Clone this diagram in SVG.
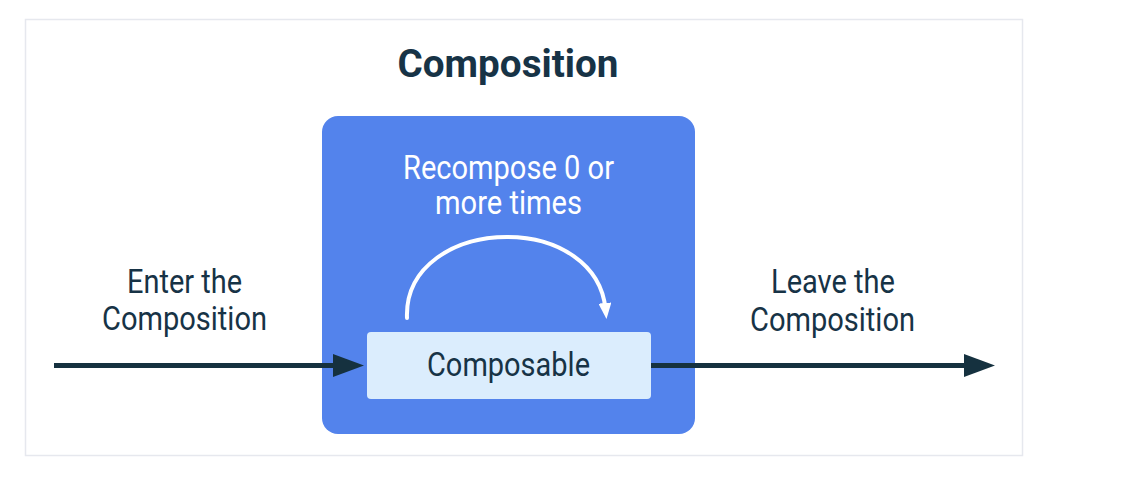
<svg xmlns="http://www.w3.org/2000/svg" width="1148" height="480" viewBox="0 0 1148 480">
<defs>
<style>
.t{font-family:Roboto,"Liberation Sans",sans-serif;font-size:32.5px;fill:#173346;text-anchor:middle}
.w{fill:#ffffff}
.conn{stroke:#15313f;stroke-width:5;fill:none}
</style>
<marker id="ah" viewBox="0 0 31 23" refX="11" refY="11.5" markerWidth="31" markerHeight="23" markerUnits="userSpaceOnUse" orient="auto">
<path d="M0,0 L31,11.5 L0,23 Z" fill="#15313f"/>
</marker>
<marker id="wh" viewBox="0 0 16 13" refX="6" refY="6.5" markerWidth="16" markerHeight="13" markerUnits="userSpaceOnUse" orient="auto">
<path d="M0,0 L16,6.5 L0,13 Z" fill="#ffffff"/>
</marker>
</defs>
<rect width="1148" height="480" fill="#ffffff"/>
<rect x="25.5" y="19.5" width="997" height="436" fill="#ffffff" stroke="#e6e8ee" stroke-width="1.5"/>
<text x="508" y="77" class="t" style="font-size:38px;font-weight:bold" textLength="221" lengthAdjust="spacingAndGlyphs">Composition</text>
<g id="composition">
<rect x="322" y="116" width="373" height="318" rx="16" fill="#5383ec"/>
<text x="508.5" y="179" class="t w" textLength="211" lengthAdjust="spacingAndGlyphs">Recompose 0 or</text>
<text x="508.5" y="214" class="t w" textLength="147" lengthAdjust="spacingAndGlyphs">more times</text>
</g>
<g id="composable">
<rect x="367" y="332" width="284" height="67" rx="4" fill="#dbedfd"/>
<text x="508.5" y="376" class="t" style="font-size:33px" textLength="163" lengthAdjust="spacingAndGlyphs">Composable</text>
</g>
<g id="enter-label">
<text x="184.5" y="293" class="t" textLength="115" lengthAdjust="spacingAndGlyphs">Enter the</text>
<text x="184.5" y="330" class="t" textLength="165" lengthAdjust="spacingAndGlyphs">Composition</text>
</g>
<g id="leave-label">
<text x="833" y="293" class="t" textLength="124" lengthAdjust="spacingAndGlyphs">Leave the</text>
<text x="832.5" y="331" class="t" textLength="165" lengthAdjust="spacingAndGlyphs">Composition</text>
</g>
<g id="connectors">
<line x1="54" y1="365.5" x2="344" y2="365.5" class="conn" marker-end="url(#ah)"/>
<line x1="651" y1="365.5" x2="975" y2="365.5" class="conn" marker-end="url(#ah)"/>
<path d="M407,318 C405,266 455,237 507,237 C558,237 601,264 605.5,309" stroke="#ffffff" stroke-width="4" fill="none" stroke-linecap="round" marker-end="url(#wh)"/>
</g>
</svg>
